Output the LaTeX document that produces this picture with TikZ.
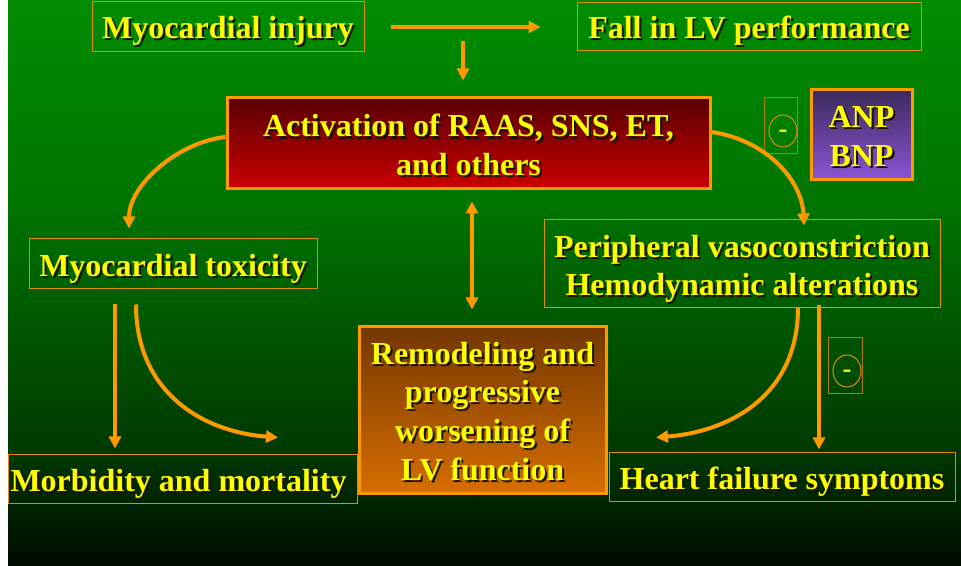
\documentclass[tikz,border=0pt]{standalone}
\usepackage{fontspec}
\setmainfont{Liberation Serif}
\usetikzlibrary{arrows.meta,calc,shapes.geometric}
\definecolor{arrc}{RGB}{255,153,0}
\definecolor{thinc}{RGB}{230,140,0}
\definecolor{minc}{RGB}{175,125,0}
\definecolor{txtc}{RGB}{255,255,0}
\definecolor{shc}{RGB}{25,20,0}
\newcommand\sh[1]{\makebox[0pt][l]{\kern1.6pt\raisebox{-1.6pt}{\textcolor{shc}{#1}}}#1}
\newcommand\st[1]{\rule{0pt}{#1}}
\pgfdeclareverticalshading{bgsh}{100bp}{rgb(0bp)=(0,0.04,0); rgb(25bp)=(0,0.04,0); rgb(35bp)=(0,0.22,0); rgb(45bp)=(0,0.33,0); rgb(57.5bp)=(0,0.46,0); rgb(75bp)=(0,0.55,0); rgb(100bp)=(0,0.55,0)}
\begin{document}
\begin{tikzpicture}[x=0.75pt,y=-0.75pt,
  lbl/.style={text=txtc, font=\bfseries\fontsize{24}{29}\selectfont, align=center, inner sep=0pt},
  thinbox/.style={lbl, draw=thinc, line width=0.75pt},
  thickbox/.style={lbl, draw=arrc, line width=2.25pt},
  minbox/.style={draw=minc, line width=0.75pt, minimum width=24.75pt, minimum height=42pt, inner sep=0pt},
  minell/.style={ellipse, draw=thinc, line width=0.75pt, minimum width=21pt, minimum height=24pt, inner sep=0pt, text=txtc, font=\bfseries\fontsize{20}{20}\selectfont, text height=9.4pt, text depth=0pt},
  arr/.style={draw=arrc, line width=3pt, -{Triangle[length=9pt,width=9pt]}},
  darr/.style={draw=arrc, line width=3pt, {Triangle[length=9pt,width=9pt]}-{Triangle[length=9pt,width=9pt]}}]
\useasboundingbox (0,0) rectangle (961,566);
\fill[white] (0,0) rectangle (961,566);
\shade[shading=bgsh] (8,0) rectangle (961,566);

\node[thinbox, minimum width=204pt, minimum height=37.5pt] (inj) at (228,27) {\st{24.5pt}\sh{Myocardial injury}};
\node[thinbox, minimum width=258pt, minimum height=36pt] (fall) at (749,27) {\st{24.5pt}\sh{Fall in LV performance}};
\node[thickbox, top color={rgb,255:red,90;green,0;blue,0}, bottom color={rgb,255:red,204;green,0;blue,0}, minimum width=362.25pt, minimum height=68.25pt] (act) at (468.5,143.5) {\st{21pt}\sh{Activation of RAAS, SNS, ET,}\\\sh{and others}};
\node[thickbox, top color={rgb,255:red,60;green,42;blue,92}, bottom color={rgb,255:red,138;green,85;blue,213}, minimum width=75.75pt, minimum height=67.5pt] (anp) at (861.5,135) {\st{19.5pt}\sh{ANP}\\\sh{BNP}};
\node[minbox] (m1) at (780.5,126) {};
\node[minell] (c1) at (783,131) {-};
\node[thinbox, minimum width=216pt, minimum height=37.5pt] (tox) at (173,264) {\st{25pt}\sh{Myocardial toxicity}};
\node[thinbox, minimum width=297pt, minimum height=66pt] (per) at (742,264) {\st{25.5pt}\sh{Peripheral vasoconstriction}\\\sh{Hemodynamic alterations}};
\node[thickbox, top color={rgb,255:red,115;green,55;blue,0}, bottom color={rgb,255:red,215;green,110;blue,0}, minimum width=185.25pt, minimum height=125.25pt] (rem) at (482.5,410.5) {\st{19.5pt}\sh{Remodeling and}\\\sh{progressive}\\\sh{worsening of}\\\sh{LV function}};
\node[thinbox, minimum width=261.75pt, minimum height=36.75pt] (morb) at (182.5,479.5) {\st{25pt}\sh{Morbidity and mortality}\kern6pt};
\node[thinbox, minimum width=259.5pt, minimum height=36.75pt] (hf) at (782,477.5) {\st{25pt}\sh{Heart failure symptoms}};
\node[minbox, minimum width=25.5pt] (m2) at (845,366) {};
\node[minell] (c2) at (847,371) {-};

\coordinate (split) at (463,27);
\draw[arr, shorten <=19.5pt, shorten >=27pt] (inj.east) -- (fall.west);
\draw[arr] ($(split)+(0,14)$) -- ($(split |- act.north)+(0,-16)$);
\draw[arr] ($(act.west)+(0,-6.5)$) .. controls +(-47,5) and +(0,-44) .. ($(tox.north)+(-44,-10)$);
\draw[arr] ($(act.east)+(0,-11.5)$) .. controls +(55,8) and +(-2,-45) .. ($(per.north)+(62,6)$);
\draw[darr] ($(act.south)+(3.5,11)$) -- ($(rem.north)+(-10.5,-16)$);
\draw[arr] ($(tox.south)+(-58,15)$) -- ($(morb.north)+(-67.5,-6)$);
\draw[arr] ($(tox.south)+(-37,15)$) .. controls +(0,86) and +(-78,-6) .. ($(morb.north)+(95.5,-17)$);
\draw[arr] ($(per.south)+(56,-1)$) .. controls +(0,88) and +(74,-6) .. ($(hf.north)+(-126,-15)$);
\draw[arr] ($(per.south)+(77,-3)$) -- ($(hf.north)+(37,-3)$);
\end{tikzpicture}
\end{document}
